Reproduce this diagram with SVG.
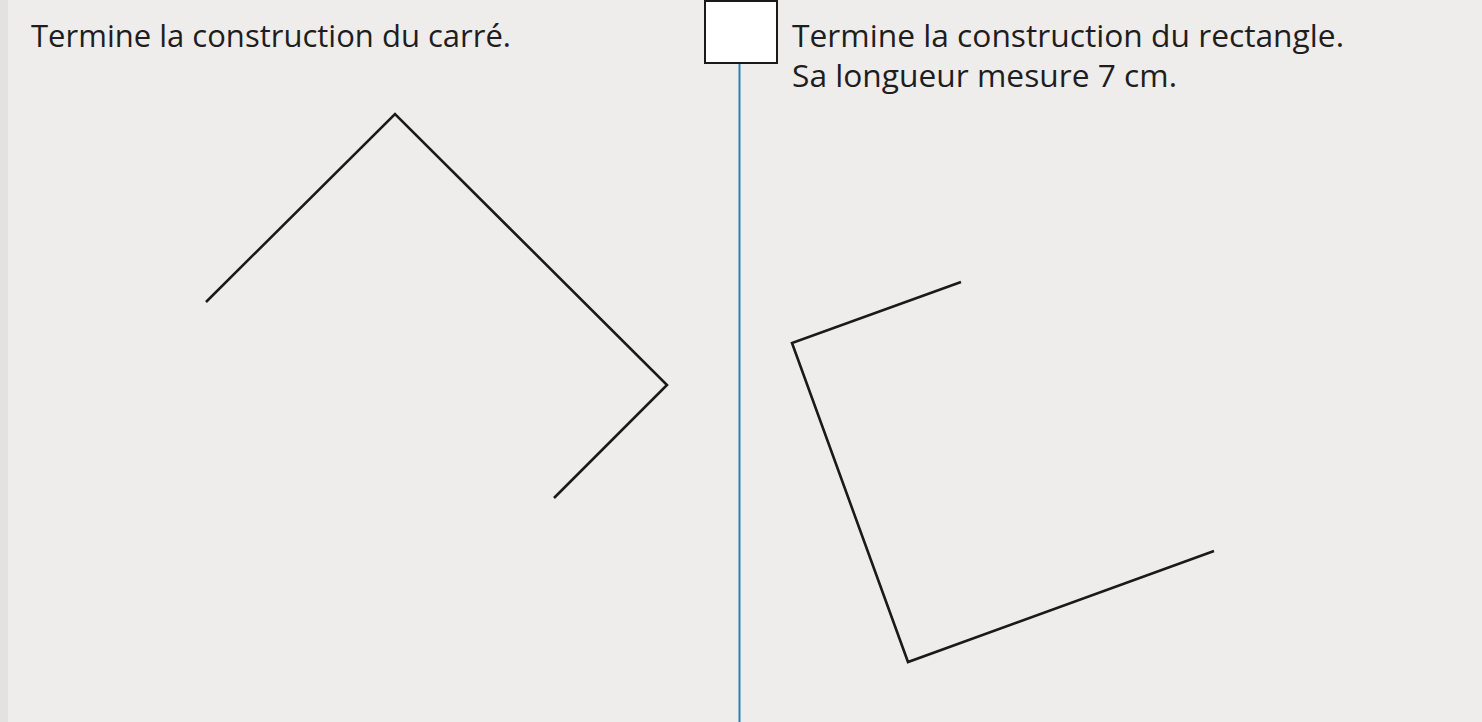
<svg xmlns="http://www.w3.org/2000/svg" width="1482" height="722" viewBox="0 0 1482 722">
  <style>
    .title { font-family: "Open Sans", "Noto Sans", "Liberation Sans", sans-serif; font-size: 31.5px; fill: #1e1e1e; }
    .fig { fill: none; stroke: #1a1a1a; stroke-width: 2.6; stroke-linejoin: miter; stroke-linecap: butt; }
  </style>
  <rect x="0" y="0" width="1482" height="722" fill="#efecec"/>
  <rect x="0" y="0" width="8" height="722" fill="#e4e1e1"/>

  <g id="divider">
    <line x1="739.5" y1="63" x2="739.5" y2="722" stroke="#2f7fb5" stroke-width="2"/>
    <rect x="705" y="1" width="72" height="62" fill="#ffffff" stroke="#1a1a1a" stroke-width="2"/>
  </g>

  <g id="left-instruction">
    <text class="title" x="31" y="47" textLength="480" lengthAdjust="spacingAndGlyphs">Termine la construction du carré.</text>
  </g>

  <g id="right-instruction">
    <text class="title" x="792" y="47" textLength="552" lengthAdjust="spacingAndGlyphs">Termine la construction du rectangle.</text>
    <text class="title" x="792" y="87" textLength="385" lengthAdjust="spacingAndGlyphs">Sa longueur mesure 7 cm.</text>
  </g>

  <g id="connectors">
    <polyline id="square" class="fig" points="206,302 395,114 667,385 554,498"/>
    <polyline id="rectangle" class="fig" points="961,282 792,343 908,662 1214,551"/>
  </g>
</svg>
